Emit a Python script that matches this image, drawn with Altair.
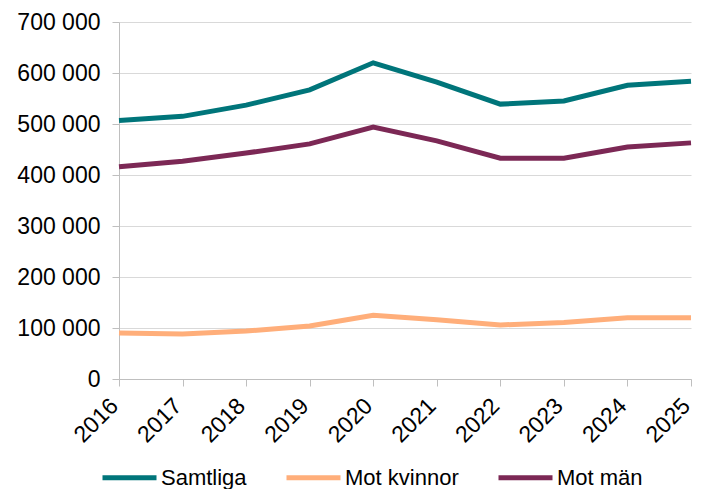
import altair as alt
import pandas as pd

years = ["2016", "2017", "2018", "2019", "2020", "2021", "2022", "2023", "2024", "2025"]
samtliga = [507000, 515000, 537000, 567000, 620000, 582000, 539000, 545000, 576000, 584000]
mot_kvinnor = [90000, 88000, 94000, 104000, 125000, 116000, 106000, 111000, 120000, 120000]
mot_man = [416000, 427000, 443000, 461000, 494000, 467000, 433000, 433000, 455000, 463000]

series_names = ["Samtliga", "Mot kvinnor", "Mot män"]
series_colors = ["#00757A", "#FFAE7A", "#7C2855"]

rows = []
for name, vals in zip(series_names, [samtliga, mot_kvinnor, mot_man]):
    for y, v in zip(years, vals):
        rows.append({"År": y, "Antal": v, "Serie": name})
df = pd.DataFrame(rows)

FONT = "Liberation Sans"

chart = alt.Chart(df).mark_line(strokeWidth=5).encode(
    x=alt.X("År:O", scale=alt.Scale(type="point", padding=0),
            axis=alt.Axis(title=None, labelAngle=-45, labelAlign="right", labelBaseline="alphabetic",
                          labelFontSize=23, labelFont=FONT, labelColor="#000000",
                          domainColor="#BFBFBF", tickColor="#BFBFBF", tickSize=7,
                          labelPadding=21, grid=False)),
    y=alt.Y("Antal:Q", scale=alt.Scale(domain=[0, 700000], nice=False),
            axis=alt.Axis(title=None, values=[0, 100000, 200000, 300000, 400000, 500000, 600000, 700000],
                          labelExpr="replace(format(datum.value, ','), /,/g, ' ')",
                          labelFontSize=23, labelFont=FONT, labelColor="#000000",
                          domainColor="#BFBFBF", tickColor="#BFBFBF", tickSize=7,
                          labelPadding=12, gridColor="#D9D9D9", gridWidth=1)),
    color=alt.Color("Serie:N", sort=series_names,
                    scale=alt.Scale(domain=series_names, range=series_colors),
                    legend=alt.Legend(title=None, orient="none", direction="horizontal",
                                      legendX=-19, legendY=426,
                                      symbolType="stroke", symbolSize=2916, symbolStrokeWidth=5,
                                      labelFontSize=22, labelFont=FONT, labelColor="#000000",
                                      labelOffset=2, columnPadding=29)),
).properties(
    width=572, height=357,
    autosize=alt.AutoSizeParams(type="none"),
    padding={"left": 111, "top": 14, "right": 3, "bottom": 110},
).configure_view(stroke=None)

chart.save("out.html", embed_options={"renderer": "svg", "actions": False})
